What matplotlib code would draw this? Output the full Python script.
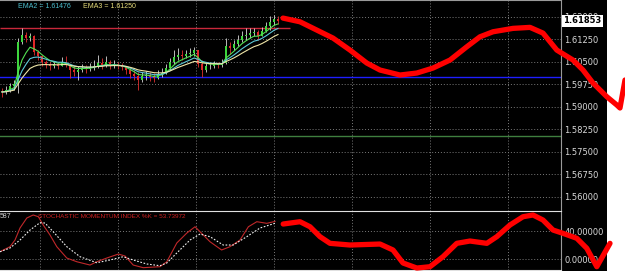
import matplotlib
matplotlib.use("Agg")
import matplotlib.pyplot as plt
from matplotlib.patches import Rectangle
import numpy as np
import pandas as pd

# --- price candles (one per bar) ---
closes = [1.5949, 1.5955, 1.5969, 1.5975, 1.6115, 1.6138, 1.6128, 1.6135, 1.6082, 1.6069,
          1.6049, 1.6042, 1.6035, 1.6042, 1.6035, 1.6049, 1.6039, 1.6022, 1.6015, 1.6022,
          1.6029, 1.6025, 1.6032, 1.6035, 1.6045, 1.6039, 1.6049, 1.6035, 1.6042, 1.6035,
          1.6032, 1.6022, 1.6009, 1.6002, 1.5989, 1.6002, 1.6005, 1.5999, 1.5995, 1.6009,
          1.6012, 1.6029, 1.6049, 1.6065, 1.6072, 1.6069, 1.6075, 1.6078, 1.6088, 1.6042,
          1.6022, 1.6035, 1.6035, 1.6042, 1.6039, 1.6045, 1.6102, 1.6095, 1.6108, 1.6122,
          1.6135, 1.6138, 1.6145, 1.6148, 1.6135, 1.6152, 1.6168, 1.6182, 1.6191, 1.61853]
highs = [1.5962, 1.5969, 1.5979, 1.5989, 1.6128, 1.6162, 1.6148, 1.6145, 1.6138, 1.6088,
         1.6072, 1.6055, 1.6049, 1.6052, 1.6049, 1.6065, 1.6069, 1.6042, 1.6035, 1.6035,
         1.6042, 1.6039, 1.6045, 1.6055, 1.6072, 1.6062, 1.6069, 1.6055, 1.6055, 1.6049,
         1.6045, 1.6035, 1.6029, 1.6022, 1.6015, 1.6015, 1.6019, 1.6015, 1.6012, 1.6022,
         1.6029, 1.6042, 1.6062, 1.6088, 1.6095, 1.6088, 1.6088, 1.6095, 1.6098, 1.6088,
         1.6055, 1.6049, 1.6049, 1.6052, 1.6049, 1.6059, 1.6128, 1.6115, 1.6122, 1.6138,
         1.6152, 1.6162, 1.6162, 1.6162, 1.6155, 1.6165, 1.6182, 1.6201, 1.6205, 1.6201]
lows = [1.5932, 1.5942, 1.5949, 1.5955, 1.5946, 1.6108, 1.6115, 1.6118, 1.6072, 1.6055,
        1.6035, 1.6029, 1.6022, 1.6029, 1.6025, 1.6035, 1.6032, 1.5995, 1.6002, 1.5989,
        1.6015, 1.6012, 1.6019, 1.6022, 1.6029, 1.6025, 1.6032, 1.6025, 1.6029, 1.6025,
        1.6022, 1.6009, 1.5995, 1.5989, 1.5955, 1.5982, 1.5989, 1.5985, 1.5982, 1.5992,
        1.5999, 1.6009, 1.6022, 1.6042, 1.6055, 1.6055, 1.6062, 1.6065, 1.6069, 1.6032,
        1.5999, 1.6015, 1.6025, 1.6029, 1.6029, 1.6032, 1.6042, 1.6075, 1.6088, 1.6102,
        1.6115, 1.6122, 1.6128, 1.6135, 1.6122, 1.6135, 1.6148, 1.6155, 1.6172, 1.6175]
first_open = 1.5952

# horizontal levels
red_level = 1.6162
blue_level = 1.5998
green_level = 1.5802
last_price = 1.61853
price_ticks = [1.62, 1.6125, 1.605, 1.5975, 1.59, 1.5825, 1.575, 1.5675, 1.56]

# --- stochastic momentum index (x in bars) ---
smi_k_x = [-0.5, 2, 3.25, 4.5, 6.2, 7.8, 9.1, 10.3, 12, 13.7, 16.2, 18.7, 22, 23.7, 26.2,
           29.1, 30.75, 32.8, 35.3, 39.5, 41.2, 43.7, 46.2, 48.25, 49.5, 52, 54.9, 57,
           59.5, 61.6, 63.7, 66.2, 68.25]
smi_k = [10.4, 17.6, 27.1, 44.3, 58.6, 62.9, 60.4, 48.6, 34.3, 17.6, 1.4, -3.9, -8.6, -3.9,
         1.4, 7.1, 4.3, -8.6, -12.4, -11.0, -3.9, 22.9, 37.1, 46.1, 39.0, 24.7, 12.9, 17.6,
         27.1, 46.1, 53.3, 51.0, 53.7]
smi_d_x = [-0.5, 2, 4.5, 7, 9.5, 10.75, 12.8, 16.2, 19.5, 23.7, 27, 30.3, 32.8, 36.2,
           39.5, 41.2, 43.7, 47, 49.5, 52, 55.3, 57.8, 61.2, 64.5, 68.25]
smi_d = [10.4, 15.7, 27.1, 41.4, 51.9, 51.4, 39.0, 17.6, 3.3, -5.3, -1.4, 3.3, -1.4, -7.1,
         -9.6, -5.7, 8.6, 27.1, 35.7, 31.9, 20.0, 20.0, 31.9, 44.3, 51.0]

# --- hand drawn forecast strokes ---
draw_top_x = [70.25, 74.5, 78.7, 82.75, 87, 91.2, 94.5, 99.5, 103.7, 107.75, 112, 116.2,
              119.5, 122.75, 127.75, 132, 135.25, 138.7, 142.75, 145.25, 147.75, 151.2,
              153.7, 154.5, 155.75]
draw_top_y = [1.61948, 1.61825, 1.61549, 1.61283, 1.60884, 1.60452, 1.60220, 1.60054,
              1.60120, 1.60286, 1.60552, 1.60994, 1.61326, 1.61493, 1.61606, 1.61639,
              1.61449, 1.60884, 1.60552, 1.60220, 1.59788, 1.59333, 1.59057, 1.58957, 1.59888]
draw_bot_x = [70.3, 74.5, 77, 79.5, 82, 87, 94.5, 97.75, 100.25, 103.7, 107, 110.25, 113.7,
              117, 121.2, 123.7, 127, 130.25, 132.75, 135.25, 137.75, 140.25, 143.7, 146.2,
              148.7, 152, 150.25]
draw_bot_y = [50, 53.3, 46.1, 31.9, 22.4, 20, 21.4, 12.9, -5.7, -12.9, -11, 3.3, 22.4,
              25.7, 22.4, 31.9, 48.6, 60.4, 62.9, 55.7, 41.4, 36.7, 29.6, 15.3, -11, 22.4]
draw_bot_x = draw_bot_x[:len(draw_bot_y)]

W, H = 625, 271
fig = plt.figure(figsize=(W / 100, H / 100), dpi=100, facecolor="white")
fig.patches.append(Rectangle((0, 0), 607 / W, 1, transform=fig.transFigure,
                             facecolor="black", zorder=-10))

ax = fig.add_axes([0, 60 / H, 561 / W, 211 / H])
ax2 = fig.add_axes([0, 1 / H, 561 / W, 59 / H])

grid_x = np.arange(9.5, 140, 19.5)
for a in (ax, ax2):
    a.set_facecolor("black")
    a.set_xlim(-0.5, 139.75)
    a.set_xticks(grid_x)
    a.tick_params(axis="x", length=0, labelbottom=False)
    a.yaxis.tick_right()
    a.tick_params(axis="y", length=0, pad=2.5, labelsize=6, labelcolor="#d8d8d8")
    a.grid(True, color="#7a7a7a", linestyle=(0, (1, 2)), linewidth=0.7)
    for s in a.spines.values():
        s.set_color("#9a9a9a")
        s.set_linewidth(0.8)
ax.spines["left"].set_visible(False)
ax2.spines["left"].set_visible(False)
ax.spines["bottom"].set_visible(False)
ax2.spines["top"].set_color("#e0e0e0")
ax2.spines["bottom"].set_color("#e0e0e0")

ax.set_ylim(1.5553, 1.6255)
ax.set_yticks(price_ticks)
ax.set_yticklabels([f"{p:.5f}" for p in price_ticks])

# levels
ax.hlines(red_level, -0.5, 72, color="#c8283a", linewidth=1.0, zorder=2)
ax.axhline(blue_level, color="#1e1eff", linewidth=1.0, zorder=2)
ax.axhline(green_level, color="#3f7f3f", linewidth=1.0, zorder=2)

# candles
xs = np.arange(len(closes))
opens = [first_open] + closes[:-1]
for i in xs:
    o, c = opens[i], closes[i]
    up = c >= o
    ax.vlines(i, lows[i], highs[i], color="#d8d8d8" if up else "#e03030",
              linewidth=0.6, zorder=3)
    ax.bar(i, max(abs(c - o), 0.00008), bottom=min(o, c), width=0.55,
           color="#3ed63e" if up else "#e02828", zorder=4, linewidth=0)

# EMAs
s = pd.Series(closes)
ax.plot(xs, s.ewm(span=5, adjust=False).mean(), color="#52e052", linewidth=0.8, zorder=5)
ax.plot(xs, s.ewm(span=9, adjust=False).mean(), color="#5cc8d8", linewidth=0.8, zorder=5)
ax.plot(xs, s.ewm(span=15, adjust=False).mean(), color="#efe6a8", linewidth=0.8, zorder=5)

ax.text(18 / 561, 1 - 6 / 211, "EMA2 = 1.61476", transform=ax.transAxes, color="#4cc0d0",
        fontsize=5, family="Liberation Sans", va="center")
ax.text(83 / 561, 1 - 6 / 211, "EMA3 = 1.61250", transform=ax.transAxes, color="#e6dc7a",
        fontsize=5, family="Liberation Sans", va="center")
ax.text(1.004, last_price, f"{last_price:.5f}", transform=ax.get_yaxis_transform(),
        fontsize=6, fontweight="bold", color="black", va="center", ha="left",
        bbox=dict(boxstyle="square,pad=0.15", facecolor="white", edgecolor="none"), zorder=6)

# stochastic panel
ax2.set_ylim(-15.7, 68.6)
ax2.set_yticks([40, 0])
ax2.set_yticklabels(["40.00000", "0.00000"])
ax2.plot(smi_k_x, smi_k, color="#c0282a", linewidth=0.8, zorder=3)
ax2.plot(smi_d_x, smi_d, color="#f0f0f0", linewidth=0.8, linestyle=(0, (1.5, 1.5)), zorder=3)
ax2.text(38 / 561, 1 - 5 / 59, "STOCHASTIC MOMENTUM INDEX %K = 53.73972",
         transform=ax2.transAxes, color="#d02020", fontsize=4.6, family="Liberation Sans",
         va="center")
ax2.text(0, 1 - 5 / 59, "587", transform=ax2.transAxes, color="#d0d0d0", fontsize=5,
         family="Liberation Sans", va="center")

# hand drawn strokes
ax.plot(draw_top_x, draw_top_y, color="#ff0000", linewidth=3.8, solid_capstyle="round",
        solid_joinstyle="round", clip_on=False, zorder=20)
ax2.plot(draw_bot_x, draw_bot_y, color="#ff0000", linewidth=3.8, solid_capstyle="round",
         solid_joinstyle="round", clip_on=False, zorder=20)

fig.savefig("out.png", dpi=100, facecolor=fig.get_facecolor())
